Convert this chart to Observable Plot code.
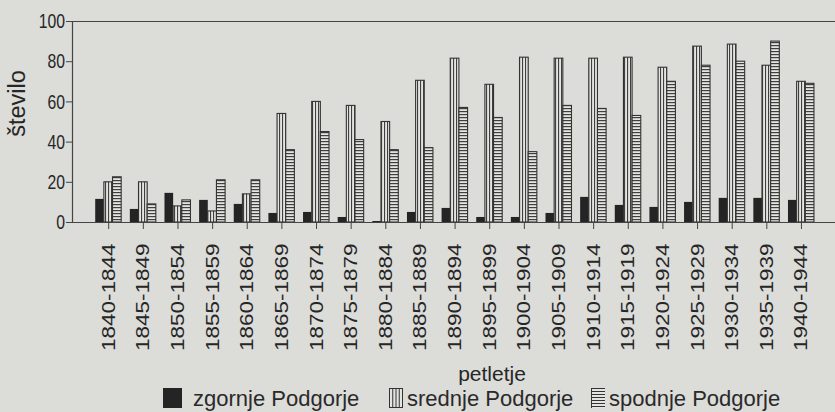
<!DOCTYPE html>
<html>
<head>
<meta charset="utf-8">
<script src="https://cdn.jsdelivr.net/npm/d3@7"></script>
<script src="https://cdn.jsdelivr.net/npm/@observablehq/plot@0.6"></script>
<style>
  html, body { margin: 0; padding: 0; background: #dcdcd9; }
  #wrap { position: relative; width: 835px; height: 412px; overflow: hidden;
          font-family: "Liberation Sans", Arial, Helvetica, sans-serif; color: #2a2a2a; }
  #chart svg { display: block; background: transparent; }
  #legend { position: absolute; left: 0; top: 388px; width: 835px; height: 24px; }
  .sw { position: absolute; top: 0px; display: block; }
  .lt { position: absolute; top: 0px; font-size: 22px; line-height: 22px; white-space: nowrap; color: #2a2a2a; }
</style>
</head>
<body>
<div id="wrap">
  <div id="chart"></div>
  <div id="legend"></div>
</div>
<script>
// ---- data ----
const periods = ["1840-1844","1845-1849","1850-1854","1855-1859","1860-1864","1865-1869","1870-1874",
                 "1875-1879","1880-1884","1885-1889","1890-1894","1895-1899","1900-1904","1905-1909",
                 "1910-1914","1915-1919","1920-1924","1925-1929","1930-1934","1935-1939","1940-1944"];
const zgornje = [11.5, 6.5, 14.5, 11, 9, 4.5, 5, 2.5, 0.5, 5, 7, 2.5, 2.5, 4.5, 12.5, 8.5, 7.5, 10, 12, 12, 11];
const srednje = [20, 20, 8, 5.5, 14, 54, 60, 58, 50, 70.5, 81.5, 68.5, 82, 81.5, 81.5, 82, 77, 87.5, 88.5, 78, 70];
const spodnje = [22.5, 9, 11, 21, 21, 36, 45, 41, 36, 37, 57, 52, 35, 58, 56.5, 53, 70, 78, 80, 90, 69];
const seriesNames = ["zgornje Podgorje", "srednje Podgorje", "spodnje Podgorje"];
const yTicks = [0, 20, 40, 60, 80, 100];
const yLabel = "število";
const xLabel = "petletje";

// ---- table built from the arrays ----
const rows = periods.flatMap((p, i) => [
  {key: p + "|z", value: zgornje[i], series: seriesNames[0]},
  {key: p + "|s", value: srednje[i], series: seriesNames[1]},
  {key: p + "|p", value: spodnje[i], series: seriesNames[2]}
]);
const xDomain = periods.flatMap(p => [p + "|z", p + "|s", p + "|p", p + "|gap"]);

const INK = "#262626";
const LINE = "#444444";
const HATCH = "#3f3f3f";

const plot = Plot.plot({
  width: 835,
  height: 388,
  marginLeft: 72,
  marginRight: 0,
  marginTop: 21,
  marginBottom: 166,
  style: {background: "transparent", fontFamily: "'Liberation Sans', Arial, Helvetica, sans-serif", color: INK},
  x: {type: "band", domain: xDomain, paddingInner: 0, paddingOuter: 2.055, align: 0.652, round: false},
  y: {domain: [0, 100]},
  marks: [
    Plot.barY(rows.filter(d => d.series === seriesNames[0]), {x: "key", y: "value", fill: "#242424"}),
    Plot.barY(rows.filter(d => d.series === seriesNames[1]), {x: "key", y: "value", fill: "url(#vstripes)", stroke: "#333", strokeWidth: 1.1}),
    Plot.barY(rows.filter(d => d.series === seriesNames[2]), {x: "key", y: "value", fill: "url(#hstripes)", stroke: "#333", strokeWidth: 1.1}),
    Plot.ruleY([0, 100], {stroke: LINE, strokeWidth: 1.2}),
    Plot.axisY(yTicks, {tickSize: 6, tickPadding: 1.5, fontSize: 21, label: null, stroke: LINE, fill: INK}),
    Plot.axisX(periods.map(p => p + "|s"), {
      tickFormat: k => k.split("|")[0], tickRotate: -90, tickSize: 7, tickPadding: 14,
      fontSize: 22.5, label: null, stroke: LINE, fill: INK
    }),
    Plot.text([yLabel], {text: d => d, frameAnchor: "left", textAnchor: "middle", lineAnchor: "middle",
                         dx: -55, dy: -18.5, rotate: -90, fontSize: 23.5, fill: INK}),
    Plot.text([xLabel], {text: d => d, frameAnchor: "bottom", textAnchor: "middle", lineAnchor: "middle",
                         dx: 38, dy: 152, fontSize: 21, fill: INK})
  ]
});

// stripe patterns for the hatched bars
const svg = d3.select(plot);
const defs = svg.insert("defs", ":first-child");
const vp = defs.append("pattern").attr("id", "vstripes").attr("patternUnits", "userSpaceOnUse")
  .attr("width", 3).attr("height", 10);
vp.append("rect").attr("width", 3).attr("height", 10).attr("fill", "#e4e4e1");
vp.append("rect").attr("x", 0).attr("width", 1.1).attr("height", 10).attr("fill", HATCH);
const hp = defs.append("pattern").attr("id", "hstripes").attr("patternUnits", "userSpaceOnUse")
  .attr("width", 10).attr("height", 3);
hp.append("rect").attr("width", 10).attr("height", 3).attr("fill", "#e4e4e1");
hp.append("rect").attr("y", 0).attr("width", 10).attr("height", 1.2).attr("fill", HATCH);

document.getElementById("chart").appendChild(plot);

// left axis line, from the plot's own y scale
const ys = plot.scale("y");
svg.append("line")
  .attr("x1", 72.5).attr("x2", 72.5)
  .attr("y1", ys.range[0]).attr("y2", ys.range[1])
  .attr("stroke", LINE).attr("stroke-width", 1.2);

// squeeze text glyphs to match the scan's narrow lettering
function squeeze(selector, sx, sy) {
  plot.querySelectorAll(selector).forEach(t => {
    const tr = t.getAttribute("transform");
    if (tr) t.setAttribute("transform", `${tr} scale(${sx},${sy})`);
  });
}
squeeze('g[aria-label="y-axis tick label"] text', 0.75, 1);
squeeze('g[aria-label="x-axis tick label"] text', 1, 0.83);

// legend (HTML below the chart)
const legendPos = [
  {sw: 163, sww: 19, tx: 193},
  {sw: 389, sww: 14, tx: 407},
  {sw: 591, sww: 14, tx: 609}
];
const legend = document.getElementById("legend");
seriesNames.forEach((name, i) => {
  const pos = legendPos[i];
  const h = 20;
  const s = d3.create("svg").attr("class", "sw").attr("width", pos.sww).attr("height", h)
    .style("left", pos.sw + "px");
  if (i === 0) {
    s.append("rect").attr("width", pos.sww).attr("height", h).attr("fill", "#242424");
  } else if (i === 1) {
    s.append("rect").attr("x", 0.5).attr("y", 0.5).attr("width", pos.sww - 1).attr("height", h - 1)
      .attr("fill", "#e4e4e1").attr("stroke", "#333");
    for (let k = 1; k < 4; k++) {
      const xx = 0.5 + k * (pos.sww - 1) / 4;
      s.append("line").attr("x1", xx).attr("x2", xx).attr("y1", 0).attr("y2", h).attr("stroke", "#333");
    }
  } else {
    s.append("rect").attr("width", pos.sww).attr("height", h).attr("fill", "#e4e4e1");
    for (let yy = 0.5; yy < h; yy += 3) {
      s.append("line").attr("x1", 0).attr("x2", pos.sww).attr("y1", yy).attr("y2", yy).attr("stroke", "#333");
    }
    s.append("line").attr("x1", 0.5).attr("x2", 0.5).attr("y1", 0).attr("y2", h).attr("stroke", "#333");
  }
  legend.appendChild(s.node());
  const t = document.createElement("span");
  t.className = "lt";
  t.style.left = pos.tx + "px";
  t.textContent = name;
  legend.appendChild(t);
});
</script>
</body>
</html>
